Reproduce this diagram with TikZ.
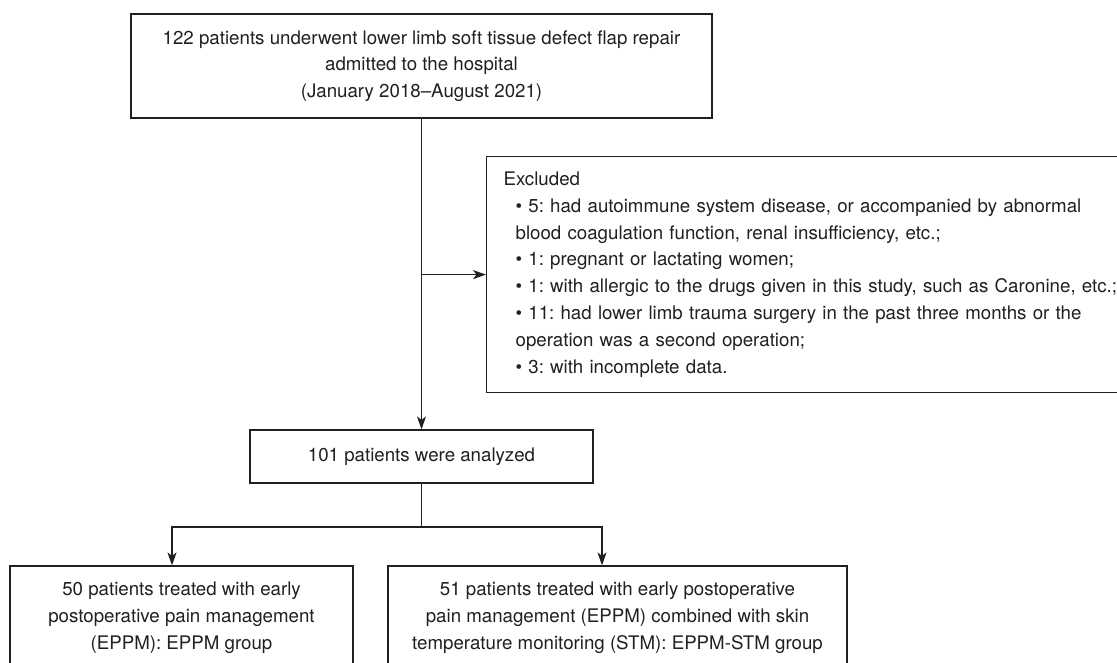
\documentclass[tikz,border=0pt]{standalone}
\usepackage{fontspec}
\setmainfont{TeX Gyre Heros}
\usetikzlibrary{arrows.meta}
\definecolor{ink}{RGB}{35,31,32}
\frenchspacing
\begin{document}
\begin{tikzpicture}[x=1pt,y=-1pt,
  box/.style={draw=ink, line width=1.2pt, rectangle, inner sep=0pt, text=ink,
    font=\fontsize{18.7}{26.8}\selectfont\frenchspacing},
  arr/.style={draw=ink, line width=1.2pt, -{Stealth[length=13pt,width=9pt,inset=3.5pt]}},
  ln/.style={draw=ink, line width=1.2pt}]
\useasboundingbox (0,0) rectangle (1117,662);
\clip (0,0) rectangle (1117,662);
\fill[white] (0,0) rectangle (1117,662);

\node[box, minimum width=581pt, minimum height=104pt, align=center] (top) at (421.5,66)
  {122 patients underwent lower limb soft tissue defect flap repair\\admitted to the hospital\\(January 2018–August 2021)};

\node[box, anchor=north west, minimum height=236pt, text width=620pt, inner xsep=17pt, align=left] (exc) at (486,156)
  {Excluded\\
   \hspace*{12pt}• 5: had autoimmune system disease, or accompanied by abnormal\\
   \hspace*{12pt}blood coagulation function, renal insufficiency, etc.;\\
   \hspace*{12pt}• 1: pregnant or lactating women;\\
   \hspace*{12pt}• 1: with allergic to the drugs given in this study, such as Caronine, etc.;\\
   \hspace*{12pt}• 11: had lower limb trauma surgery in the past three months or the\\
   \hspace*{12pt}operation was a second operation;\\
   \hspace*{12pt}• 3: with incomplete data.};

\node[box, minimum width=343pt, minimum height=53pt] (ana) at (421.5,456.5) {101 patients were analyzed};

\node[box, minimum width=343pt, minimum height=103pt, align=center] (g1) at (181.5,617.5)
  {50 patients treated with early\\postoperative pain management\\(EPPM): EPPM group};
\node[box, minimum width=459pt, minimum height=103pt, align=center] (g2) at (617.5,617.5)
  {51 patients treated with early postoperative\\pain management (EPPM) combined with skin\\temperature monitoring (STM): EPPM-STM group};

\draw[arr] (top.south) -- (ana.north);
\coordinate (j1) at (top.south |- exc.west);
\draw[arr] (j1) -- (exc.west);
\coordinate (j2) at (421.5,527);
\coordinate (bl) at (172,527);
\coordinate (br) at (602,527);
\draw[ln] (ana.south) -- (j2);
\draw[arr] (j2) -- (bl) -- (bl |- g1.north);
\draw[arr] (j2) -- (br) -- (br |- g2.north);
\end{tikzpicture}
\end{document}
